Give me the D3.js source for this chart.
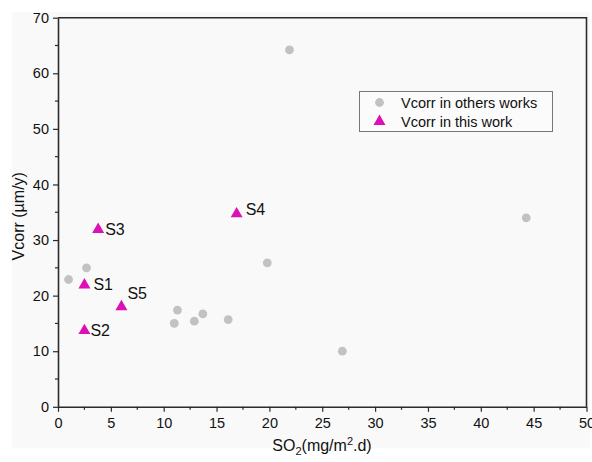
<!DOCTYPE html>
<html>
<head>
<meta charset="utf-8">
<script src="https://cdn.jsdelivr.net/npm/d3@7"></script>
<style>
  html, body { margin: 0; padding: 0; background: #ffffff; }
  svg { display: block; }
  text { font-family: "Liberation Sans", Arial, sans-serif; fill: #111; }
</style>
</head>
<body>
<svg id="chart" width="592" height="462"></svg>
<script>
// Corrosion rate vs SO2 deposition: literature values and this work
const othersSO2   = [1.0, 2.7, 11.3, 11.0, 12.9, 13.7, 16.1, 19.8, 21.9, 26.9, 44.3];
const othersVcorr = [22.9, 25.0, 17.4, 15.0, 15.4, 16.7, 15.7, 25.9, 64.2, 10.0, 34.0];

const sampleNames = ["S1", "S2", "S3", "S4", "S5"];
const sampleSO2   = [2.5, 2.5, 3.8, 16.9, 6.0];
const sampleVcorr = [22.0, 13.8, 32.0, 34.8, 18.1];

const xTicks = [0, 5, 10, 15, 20, 25, 30, 35, 40, 45, 50];
const yTicks = [0, 10, 20, 30, 40, 50, 60, 70];
const legendLabels = ["Vcorr in others works", "Vcorr in this work"];

const svg = d3.select("#chart");
const margin = { left: 58, right: 5.5, top: 17.7, bottom: 55.2 };
const W = 592, H = 462;

// panel background
svg.append("rect").attr("x", 12).attr("y", 12).attr("width", 578).attr("height", 436)
  .attr("fill", "#f9f9f9");

const x = d3.scaleLinear().domain([0, 50]).range([margin.left, W - margin.right]);
const y = d3.scaleLinear().domain([0, 70]).range([H - margin.bottom, margin.top]);

const axisColor = "#2b2b2b";

// frame (top and right sides)
svg.append("path")
  .attr("d", `M${x(0)},${y(70)}H${x(50)}V${y(0)}`)
  .attr("fill", "none").attr("stroke", axisColor).attr("stroke-width", 1.6);

// minor ticks
const xMinor = d3.range(2.5, 50, 5);
const yMinor = d3.range(5, 70, 10);

const xAxis = svg.append("g").attr("transform", `translate(0,${y(0)})`)
  .call(d3.axisBottom(x).tickValues(xTicks).tickFormat(d3.format("d")).tickSize(5).tickSizeOuter(0).tickPadding(6));
xAxis.append("g").selectAll("line").data(xMinor).join("line")
  .attr("x1", d => x(d)).attr("x2", d => x(d)).attr("y1", 0).attr("y2", 3)
  .attr("stroke", axisColor).attr("stroke-width", 1.2);

const yAxis = svg.append("g").attr("transform", `translate(${x(0)},0)`)
  .call(d3.axisLeft(y).tickValues(yTicks).tickFormat(d3.format("d")).tickSize(5).tickSizeOuter(0).tickPadding(4));
yAxis.append("g").selectAll("line").data(yMinor).join("line")
  .attr("y1", d => y(d)).attr("y2", d => y(d)).attr("x1", 0).attr("x2", -3)
  .attr("stroke", axisColor).attr("stroke-width", 1.2);

[xAxis, yAxis].forEach(g => {
  g.select(".domain").attr("stroke", axisColor).attr("stroke-width", 1.6);
  g.selectAll(".tick line").attr("stroke", axisColor).attr("stroke-width", 1.2);
  g.selectAll(".tick text").attr("font-size", 14.5).attr("fill", "#111")
    .attr("font-family", "'Liberation Sans', Arial, sans-serif");
});

// axis titles
const xTitle = svg.append("text").attr("x", 322).attr("y", 451).attr("text-anchor", "middle")
  .attr("font-size", 16);
xTitle.append("tspan").text("SO");
xTitle.append("tspan").attr("font-size", 11).attr("dy", 4).text("2");
xTitle.append("tspan").attr("dy", -4).text("(mg/m");
xTitle.append("tspan").attr("font-size", 11).attr("dy", -6).text("2");
xTitle.append("tspan").attr("dy", 6).text(".d)");

svg.append("text").attr("transform", `translate(24,${(y(0) + y(70)) / 2 + 4}) rotate(-90)`)
  .attr("text-anchor", "middle").attr("font-size", 16).text("Vcorr (\u00b5m/y)");

const grey = "#c2c2c2";
const magenta = "#dc10b4";
const tri = d3.symbol().type(d3.symbolTriangle).size(62);

// literature points
svg.append("g").selectAll("circle").data(othersSO2).join("circle")
  .attr("cx", d => x(d)).attr("cy", (d, i) => y(othersVcorr[i])).attr("r", 4.4)
  .attr("fill", grey);

// this work
svg.append("g").selectAll("path").data(sampleSO2).join("path")
  .attr("d", tri).attr("fill", magenta)
  .attr("transform", (d, i) => `translate(${x(d)},${y(sampleVcorr[i]) + 0.5})`);

// sample labels, offsets in px from the marker
const labelOffset = { S1: [9, 5], S2: [6, 6], S3: [7, 6], S4: [9, 2], S5: [6, -7] };
svg.append("g").selectAll("text").data(sampleNames).join("text")
  .attr("x", (d, i) => x(sampleSO2[i]) + labelOffset[d][0])
  .attr("y", (d, i) => y(sampleVcorr[i]) + labelOffset[d][1])
  .attr("font-size", 16).text(d => d);

// legend
const lg = svg.append("g");
lg.append("rect").attr("x", 359.5).attr("y", 91.5).attr("width", 193).attr("height", 40)
  .attr("fill", "#fbfbfb").attr("stroke", "#777").attr("stroke-width", 1);
lg.append("circle").attr("cx", 379.5).attr("cy", 102.5).attr("r", 4.4).attr("fill", grey);
lg.append("path").attr("d", tri).attr("fill", magenta).attr("transform", "translate(379.5,121.5)");
lg.selectAll("text.lab").data(legendLabels).join("text").attr("class", "lab")
  .attr("x", 401).attr("y", (d, i) => 107.5 + i * 19).attr("font-size", 14.5).text(d => d);
</script>
</body>
</html>
